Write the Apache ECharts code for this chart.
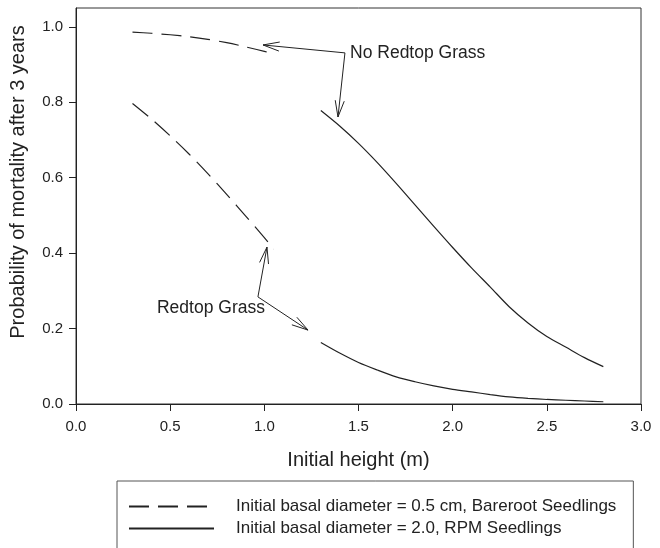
<!DOCTYPE html>
<html>
<head>
<meta charset="utf-8">
<title>Probability of mortality</title>
<script src="https://cdn.jsdelivr.net/npm/echarts@6/dist/echarts.min.js"></script>
<style>
  html, body { margin: 0; padding: 0; background: #fff; }
  #chart { width: 660px; height: 548px; }
</style>
</head>
<body>
<div id="chart"></div>
<script>
// heights (m) for each seedling type
const barerootHeights = [0.3, 0.4, 0.5, 0.6, 0.7, 0.8, 0.9, 1.0, 1.05]
const rpmHeights = [1.3, 1.4, 1.5, 1.6, 1.7, 1.8, 1.9, 2.0, 2.1, 2.2, 2.3, 2.4, 2.5, 2.6, 2.7, 2.8]

// mortality probabilities
const barerootNoGrass = [0.986, 0.983, 0.979, 0.974, 0.967, 0.958, 0.947, 0.935, 0.928]
const barerootGrass = [0.797, 0.756, 0.711, 0.663, 0.611, 0.556, 0.499, 0.441, 0.411]
const rpmNoGrass = [0.778, 0.737, 0.691, 0.64, 0.585, 0.528, 0.471, 0.415, 0.361, 0.31, 0.258, 0.215, 0.179, 0.151, 0.123, 0.099]
const rpmGrass = [0.163, 0.135, 0.11, 0.09, 0.072, 0.059, 0.048, 0.039, 0.032, 0.025, 0.019, 0.015, 0.012, 0.01, 0.008, 0.006]

const yTicks = [0, 0.2, 0.4, 0.6, 0.8, 1.0]
const legendNames = ['Initial basal diameter = 0.5 cm, Bareroot Seedlings', 'Initial basal diameter = 2.0, RPM Seedlings']

// annotation arrows: [fromX, fromY, toX, toY]
const arrows = [
  [1.428, 0.931, 0.993, 0.952],
  [1.428, 0.931, 1.391, 0.761],
  [0.966, 0.284, 1.014, 0.416],
  [0.966, 0.284, 1.232, 0.196]
]
// annotation labels: [x, y, text]
const notes = [
  [1.455, 0.931, 'No Redtop Grass'],
  [0.43, 0.2545, 'Redtop Grass']
]

const font = "'Liberation Sans', Arial, sans-serif"
const ink = '#222'

function pairs(xs, ys) {
  return xs.map((x, i) => [x, ys[i]])
}

function curve(name, xs, ys, dashed) {
  return {
    name: name,
    type: 'line',
    data: pairs(xs, ys),
    smooth: 0.3,
    symbol: 'none',
    showSymbol: false,
    silent: true,
    color: ink,
    itemStyle: { color: ink },
    lineStyle: {
      color: ink,
      width: 1.2,
      type: dashed ? [20, 9] : 'solid'
    }
  }
}

const chart = echarts.init(document.getElementById('chart'))

chart.setOption({
  animation: false,
  textStyle: { fontFamily: font, color: ink },
  grid: {
    left: 76,
    right: 19,
    top: 8,
    bottom: 144,
    show: true,
    borderColor: '#333',
    borderWidth: 1
  },
  legend: {
    data: legendNames,
    orient: 'horizontal',
    left: 117,
    top: 481,
    width: 490,
    padding: [17, 17, 24, 11],
    itemWidth: 85,
    itemHeight: 14,
    itemGap: 5,
    borderColor: '#555',
    borderWidth: 1,
    borderRadius: 0,
    selectedMode: false,
    itemStyle: { opacity: 0 },
    textStyle: {
      fontFamily: font,
      fontSize: 17,
      color: ink,
      padding: [0, 0, 0, 17]
    }
  },
  xAxis: {
    type: 'value',
    min: 0,
    max: 3,
    interval: 0.5,
    name: 'Initial height (m)',
    nameLocation: 'middle',
    nameGap: 46,
    nameTextStyle: { fontSize: 20, color: ink, fontFamily: font },
    splitLine: { show: false },
    axisLine: { lineStyle: { color: ink, width: 1 } },
    axisTick: { show: true, length: 7, lineStyle: { color: ink } },
    axisLabel: {
      fontSize: 15,
      color: ink,
      margin: 15,
      formatter: v => v.toFixed(1)
    }
  },
  yAxis: {
    type: 'value',
    min: 0,
    max: 1.05,
    name: 'Probability of mortality after 3 years',
    nameLocation: 'middle',
    nameGap: 48,
    nameTextStyle: { fontSize: 20, color: ink, fontFamily: font, padding: [0, 0, 0, 48] },
    splitLine: { show: false },
    axisLine: { show: true, lineStyle: { color: ink, width: 1 } },
    axisTick: { show: true, length: 7, customValues: yTicks, lineStyle: { color: ink } },
    axisLabel: {
      fontSize: 15,
      color: ink,
      margin: 13,
      customValues: yTicks,
      formatter: v => v.toFixed(1)
    }
  },
  series: [
    curve(legendNames[0], barerootHeights, barerootNoGrass, true),
    curve(legendNames[0], barerootHeights, barerootGrass, true),
    curve(legendNames[1], rpmHeights, rpmNoGrass, false),
    curve(legendNames[1], rpmHeights, rpmGrass, false),
    {
      type: 'custom',
      silent: true,
      data: arrows,
      encode: { x: [0, 2], y: [1, 3] },
      renderItem: function (params, api) {
        const a = api.coord([api.value(0), api.value(1)])
        const b = api.coord([api.value(2), api.value(3)])
        const ang = Math.atan2(a[1] - b[1], a[0] - b[0])
        const len = 17
        const spread = 0.27
        const h1 = [b[0] + len * Math.cos(ang + spread), b[1] + len * Math.sin(ang + spread)]
        const h2 = [b[0] + len * Math.cos(ang - spread), b[1] + len * Math.sin(ang - spread)]
        const st = { stroke: ink, lineWidth: 1, fill: null }
        return {
          type: 'group',
          children: [
            { type: 'line', shape: { x1: a[0], y1: a[1], x2: b[0], y2: b[1] }, style: st },
            { type: 'polyline', shape: { points: [h1, b, h2] }, style: st }
          ]
        }
      }
    },
    {
      type: 'custom',
      silent: true,
      data: notes,
      encode: { x: 0, y: 1 },
      renderItem: function (params, api) {
        const p = api.coord([api.value(0), api.value(1)])
        return {
          type: 'text',
          style: {
            text: notes[params.dataIndex][2],
            x: p[0],
            y: p[1],
            fill: ink,
            font: '17.5px ' + font,
            textAlign: 'left',
            textVerticalAlign: 'middle'
          }
        }
      }
    }
  ]
})
</script>
</body>
</html>
